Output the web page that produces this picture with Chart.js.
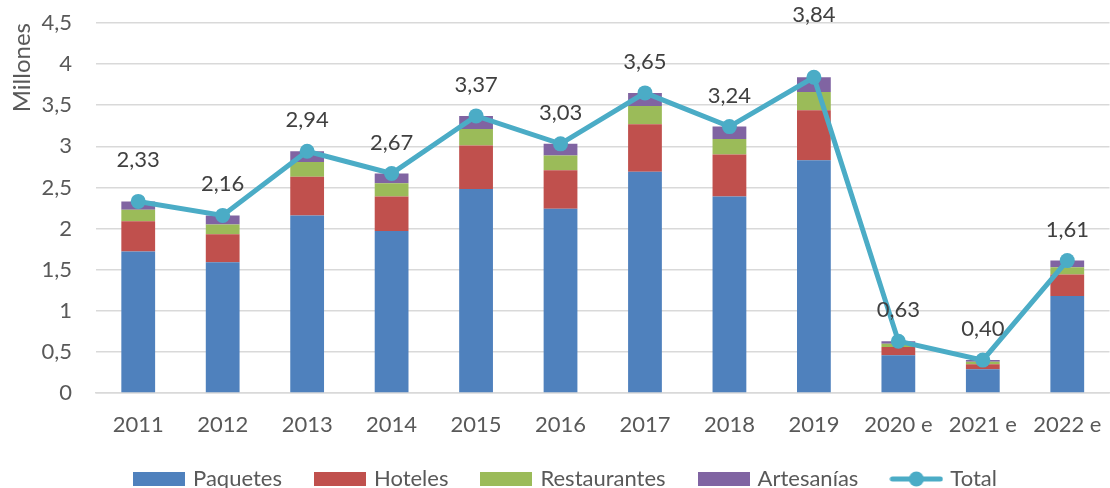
<!DOCTYPE html>
<html>
<head>
<meta charset="utf-8">
<script src="https://cdn.jsdelivr.net/npm/chart.js@4/dist/chart.umd.min.js"></script>
<style>
html, body { margin: 0; padding: 0; background: #ffffff; overflow: hidden; width: 1110px; height: 488px; }
#wrap { position: absolute; left: 0; top: 0; width: 1117px; height: 500px; }
</style>
</head>
<body>
<div id="wrap"><canvas id="c" width="1117" height="500"></canvas></div>
<script>
// ---- Data ----
const categories = ['2011', '2012', '2013', '2014', '2015', '2016', '2017', '2018', '2019', '2020 e', '2021 e', '2022 e'];
const paquetes     = [1.72, 1.59, 2.16, 1.97, 2.48, 2.24, 2.69, 2.39, 2.83, 0.46, 0.29, 1.18];
const hoteles      = [0.37, 0.34, 0.47, 0.42, 0.53, 0.47, 0.58, 0.51, 0.61, 0.10, 0.06, 0.26];
const restaurantes = [0.14, 0.12, 0.18, 0.16, 0.20, 0.18, 0.22, 0.19, 0.22, 0.04, 0.03, 0.09];
const artesanias   = [0.10, 0.11, 0.13, 0.12, 0.16, 0.14, 0.16, 0.15, 0.18, 0.03, 0.02, 0.08];
const total        = [2.33, 2.16, 2.94, 2.67, 3.37, 3.03, 3.65, 3.24, 3.84, 0.63, 0.40, 1.61];
const yTicks       = [0, 0.5, 1, 1.5, 2, 2.5, 3, 3.5, 4, 4.5];

// ---- Styles ----
const FONT = 'Lato, "Open Sans", sans-serif';
const TEXT = '#595959';
const COLORS = { paq: '#4F81BD', hot: '#C0504D', res: '#9BBB59', art: '#8064A2', tot: '#4BACC6' };
const labelOffsets = [42, 31, 31, 31, 31, 31, 31, 31, 62, 31, 31, 31];

const fmt = v => String(v).replace('.', ',');
const fmt2 = v => v.toFixed(2).replace('.', ',');

function boxImg(color) {
  const c = document.createElement('canvas');
  c.width = 52; c.height = 14;
  const x = c.getContext('2d');
  x.fillStyle = color; x.fillRect(0, 0, 52, 14);
  return c;
}
function lineImg(color) {
  const c = document.createElement('canvas');
  c.width = 54; c.height = 16;
  const x = c.getContext('2d');
  x.strokeStyle = color; x.lineWidth = 5; x.lineCap = 'round';
  x.beginPath(); x.moveTo(3, 8); x.lineTo(51, 8); x.stroke();
  x.fillStyle = color; x.beginPath(); x.arc(27, 8, 7.5, 0, Math.PI * 2); x.fill();
  return c;
}

const dataLabels = {
  id: 'dataLabels',
  afterDatasetsDraw(chart) {
    const meta = chart.getDatasetMeta(4);
    const ctx = chart.ctx;
    ctx.save();
    ctx.font = '22px ' + FONT;
    ctx.fillStyle = '#404040';
    ctx.textAlign = 'center';
    ctx.textBaseline = 'middle';
    meta.data.forEach((pt, i) => {
      ctx.fillText(fmt2(total[i]), pt.x, pt.y - labelOffsets[i]);
    });
    ctx.restore();
  }
};

const barCommon = { type: 'bar', stack: 'bars', order: 1, barPercentage: 0.4, categoryPercentage: 1.0, borderWidth: 0 };

new Chart(document.getElementById('c'), {
  data: {
    labels: categories,
    datasets: [
      Object.assign({ label: 'Paquetes', data: paquetes, backgroundColor: COLORS.paq }, barCommon),
      Object.assign({ label: 'Hoteles', data: hoteles, backgroundColor: COLORS.hot }, barCommon),
      Object.assign({ label: 'Restaurantes', data: restaurantes, backgroundColor: COLORS.res }, barCommon),
      Object.assign({ label: 'Artesanías', data: artesanias, backgroundColor: COLORS.art }, barCommon),
      {
        type: 'line', label: 'Total', data: total, stack: 'total', order: 0,
        borderColor: COLORS.tot, backgroundColor: COLORS.tot, borderWidth: 5,
        pointRadius: 7.5, pointHoverRadius: 7.5, pointBackgroundColor: COLORS.tot, pointBorderWidth: 0,
        tension: 0, fill: false
      }
    ]
  },
  options: {
    responsive: false,
    animation: false,
    devicePixelRatio: 1,
    layout: { padding: { top: 23, left: 16, right: 0, bottom: 0 } },
    plugins: {
      legend: {
        position: 'bottom',
        labels: {
          usePointStyle: true,
          pointStyleWidth: 46,
          boxHeight: 14,
          padding: 35,
          color: TEXT,
          font: { family: FONT, size: 22 },
          sort: (a, b) => a.datasetIndex - b.datasetIndex,
          generateLabels(chart) {
            const items = Chart.defaults.plugins.legend.labels.generateLabels(chart);
            items.forEach(it => {
              it.pointStyle = it.datasetIndex === 4 ? lineImg(COLORS.tot) : boxImg(chart.data.datasets[it.datasetIndex].backgroundColor);
            });
            return items;
          }
        }
      },
      tooltip: { enabled: false }
    },
    scales: {
      x: {
        stacked: true,
        grid: { display: false, drawTicks: false },
        border: { display: true, color: '#d9d9d9', width: 1.5 },
        ticks: { color: TEXT, font: { family: FONT, size: 22 }, padding: 19, maxRotation: 0, autoSkip: false },
        afterFit(s) { s.height = 40; s.paddingLeft = 0; s.paddingRight = 0; }
      },
      y: {
        stacked: true,
        min: 0, max: 4.5,
        afterBuildTicks(s) { s.ticks = yTicks.map(v => ({ value: v })); },
        grid: { color: '#d9d9d9', lineWidth: 1.5, drawTicks: false },
        border: { display: false },
        ticks: { color: TEXT, font: { family: FONT, size: 22 }, padding: 24, callback: v => fmt(v) },
        title: { display: true, text: 'Millones', align: 'end', color: TEXT, font: { family: FONT, size: 24 }, padding: { top: -8, bottom: 0 } },
        afterFit(s) { s.width = 80; s.paddingTop = 0; s.paddingBottom = 0; }
      }
    }
  },
  plugins: [dataLabels]
});
</script>
</body>
</html>
